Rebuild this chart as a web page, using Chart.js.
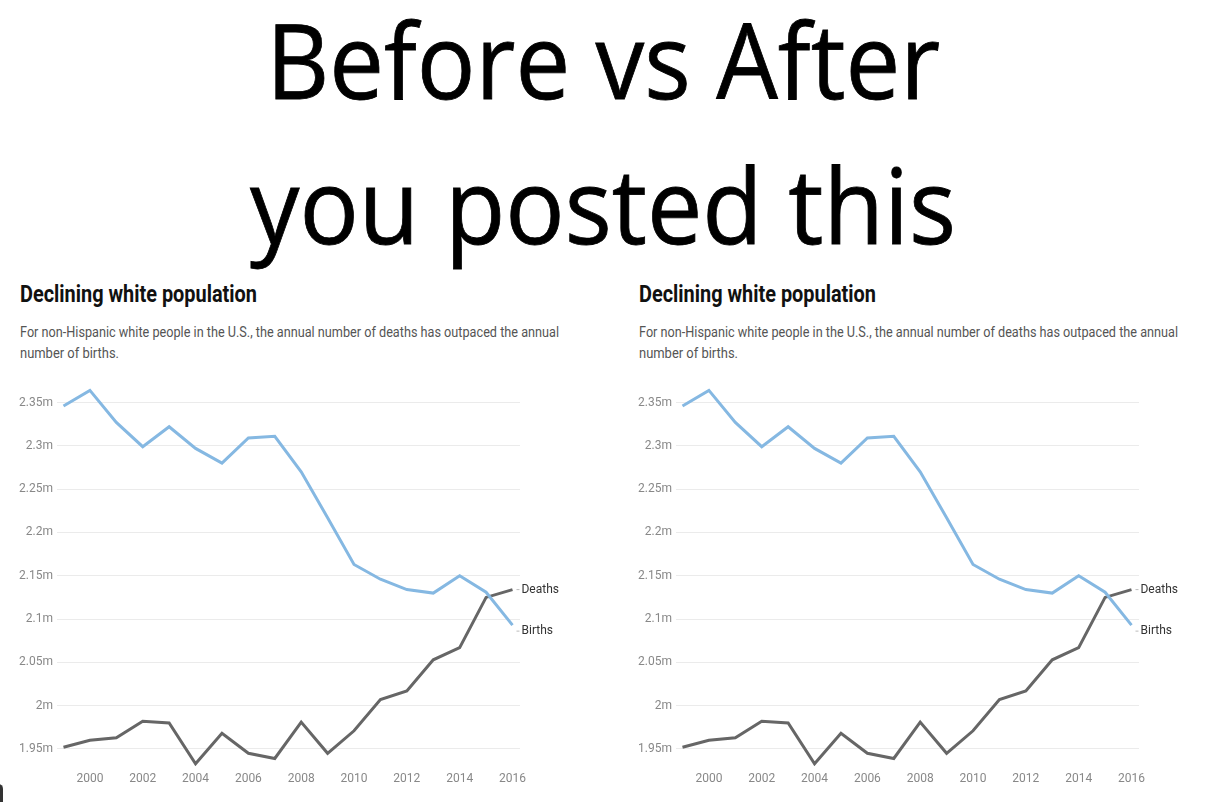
<!DOCTYPE html>
<html lang="en">
<head>
<meta charset="UTF-8">
<title>Before vs After</title>
<style>
    html, body { margin: 0; padding: 0; background: #fff; }
    body { width: 1206px; height: 802px; position: relative; overflow: hidden; font-family: Roboto, sans-serif; }
    .big { position: absolute; left: 0; width: 1206px; text-align: center; font-family: "Open Sans", "Noto Sans", sans-serif;
           font-size: 104px; line-height: 104px; color: #000; white-space: nowrap; -webkit-text-stroke: 0.8px #000; }
    .big span, .fit { display: inline-block; transform-origin: left top; white-space: nowrap; }
    .big span { transform-origin: center top; }
    .panel { position: absolute; top: 0; width: 600px; height: 802px; }
    .title { position: absolute; left: 20px; top: 281px; font-size: 23px; font-weight: bold; color: #111; }
    .sub { position: absolute; left: 20px; font-size: 14.5px; color: #555; }
    .panel canvas { position: absolute; left: 0; top: 374px; }
    .blob { position: absolute; left: -6px; top: 784px; width: 9px; height: 22px; border-radius: 5px; background: #333; }
</style>
</head>
<body>
    <div class="big" style="top: 7px;"><span data-w="674">Before vs After</span></div>
    <div class="big" style="top: 152px;"><span data-w="706">you posted this</span></div>

    <div class="panel" style="left: 0;">
        <div class="title"><span class="fit" data-w="237">Declining white population</span></div>
        <div class="sub" style="top: 324px;"><span class="fit" data-w="539">For non-Hispanic white people in the U.S., the annual number of deaths has outpaced the annual</span></div>
        <div class="sub" style="top: 345px;"><span class="fit" data-w="99">number of births.</span></div>
        <canvas id="chartBefore" width="600" height="417"></canvas>
    </div>
    <div class="panel" style="left: 619px;">
        <div class="title"><span class="fit" data-w="237">Declining white population</span></div>
        <div class="sub" style="top: 324px;"><span class="fit" data-w="539">For non-Hispanic white people in the U.S., the annual number of deaths has outpaced the annual</span></div>
        <div class="sub" style="top: 345px;"><span class="fit" data-w="99">number of births.</span></div>
        <canvas id="chartAfter" width="600" height="417"></canvas>
    </div>
    <div class="blob"></div>

    <script src="https://cdn.jsdelivr.net/npm/chart.js"></script>
    <script>
        const years = [1999, 2000, 2001, 2002, 2003, 2004, 2005, 2006, 2007, 2008, 2009, 2010, 2011, 2012, 2013, 2014, 2015, 2016];
        const births = [2.346, 2.364, 2.327, 2.299, 2.322, 2.297, 2.280, 2.309, 2.311, 2.270, 2.217, 2.163, 2.146, 2.134, 2.130, 2.150, 2.131, 2.093];
        const deaths = [1.952, 1.960, 1.963, 1.982, 1.980, 1.933, 1.968, 1.945, 1.939, 1.981, 1.945, 1.971, 2.007, 2.017, 2.053, 2.067, 2.125, 2.134];
        const yTicks = [1.95, 2, 2.05, 2.1, 2.15, 2.2, 2.25, 2.3, 2.35];
        const xTicks = [2000, 2002, 2004, 2006, 2008, 2010, 2012, 2014, 2016];
        const seriesNames = ['Births', 'Deaths'];

        // squeeze the text to the condensed widths of the original
        document.querySelectorAll('[data-w]').forEach(el => {
            const w = el.getBoundingClientRect().width;
            el.style.transform = `scaleX(${el.dataset.w / w})`;
        });

        Chart.defaults.font.family = 'Roboto, sans-serif';
        Chart.defaults.animation = false;

        // end-of-line labels "Births" / "Deaths"
        const endLabels = {
            id: 'endLabels',
            afterDatasetsDraw(chart) {
                const ctx = chart.ctx;
                const nudge = { Births: 6, Deaths: 0 };
                ctx.save();
                chart.data.datasets.forEach((ds, i) => {
                    const pts = chart.getDatasetMeta(i).data;
                    const p = pts[pts.length - 1];
                    const y = p.y + nudge[ds.label];
                    ctx.strokeStyle = '#bbb';
                    ctx.lineWidth = 1;
                    ctx.beginPath();
                    ctx.moveTo(p.x + 4, y);
                    ctx.lineTo(p.x + 7, y);
                    ctx.stroke();
                    ctx.fillStyle = '#333';
                    ctx.font = '12px Roboto, sans-serif';
                    ctx.textBaseline = 'middle';
                    ctx.fillText(ds.label, p.x + 9, y);
                });
                ctx.restore();
            }
        };

        const makeChart = (canvasId) => {
            const ctx = document.getElementById(canvasId).getContext('2d');
            return new Chart(ctx, {
                type: 'line',
                data: {
                    labels: years,
                    datasets: [
                        { label: seriesNames[0], data: years.map((y, i) => ({ x: y, y: births[i] })), borderColor: '#85b8e2', borderWidth: 3, pointRadius: 0, tension: 0 },
                        { label: seriesNames[1], data: years.map((y, i) => ({ x: y, y: deaths[i] })), borderColor: '#666666', borderWidth: 3, pointRadius: 0, tension: 0 }
                    ]
                },
                options: {
                    responsive: false,
                    layout: { padding: { top: 0, right: 80, left: 0, bottom: 0 } },
                    plugins: { legend: { display: false }, tooltip: { enabled: false } },
                    scales: {
                        x: {
                            type: 'linear', min: 1998.754, max: 2016.284,
                            afterBuildTicks: s => { s.ticks = xTicks.map(v => ({ value: v })); },
                            afterFit: s => { s.height = 24.7; },
                            grid: { display: false, drawTicks: false },
                            border: { display: false },
                            ticks: { color: '#888', font: { size: 12 }, padding: 5, callback: v => String(v), maxRotation: 0 }
                        },
                        y: {
                            min: 1.93, max: 2.37,
                            afterBuildTicks: s => { s.ticks = yTicks.map(v => ({ value: v })); },
                            afterFit: s => { s.width = 57; },
                            grid: { color: '#ebebeb', lineWidth: 1, drawTicks: false },
                            border: { display: false },
                            ticks: { color: '#888', font: { size: 12 }, padding: 4, callback: v => +v.toFixed(2) + 'm' }
                        }
                    }
                },
                plugins: [endLabels]
            });
        };

        makeChart('chartBefore');
        makeChart('chartAfter');
    </script>
</body>
</html>
